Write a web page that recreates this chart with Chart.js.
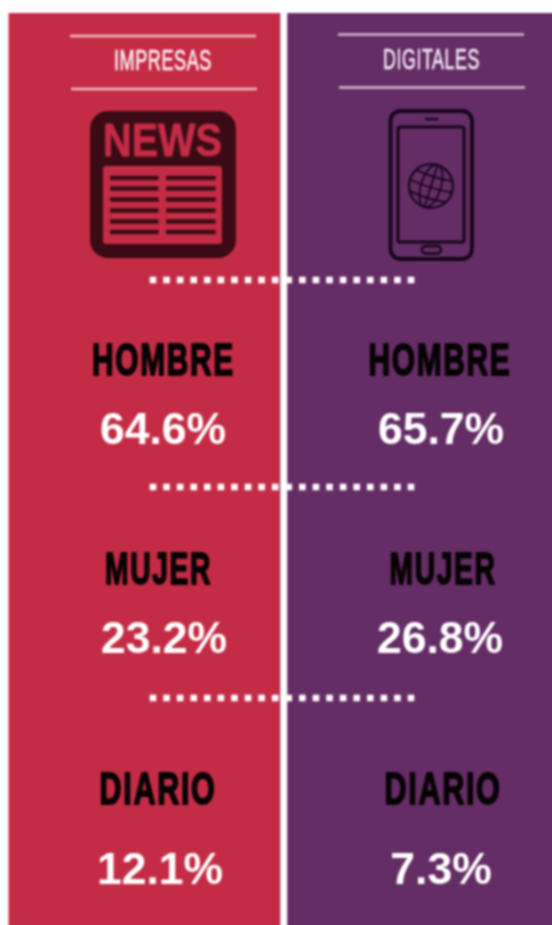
<!DOCTYPE html>
<html lang="es">
<head>
<meta charset="utf-8">
<title>Impresas y digitales</title>
<script src="https://cdn.jsdelivr.net/npm/chart.js@4"></script>
<style>
    html, body { margin: 0; padding: 0; background: #ffffff; overflow: hidden; width: 552px; height: 925px; }
    canvas { display: block; filter: blur(0.85px); }
</style>
</head>
<body>
<canvas id="chart" width="560" height="933"></canvas>
<script>
"use strict";

const medios = ["IMPRESAS", "DIGITALES"];
const categorias = ["HOMBRE", "MUJER", "DIARIO"];
const impresas = [64.6, 23.2, 12.1];
const digitales = [65.7, 26.8, 7.3];
const paneles = [1, 1];

const ROJO = "#C42C45";
const MORADO = "#652D65";
const TINTA = "#3A0B14";
const TINTA_MOVIL = "#14061A";
const CONDENSADA = '"Liberation Sans Narrow", "Liberation Sans", sans-serif';
const ARIAL = '"Liberation Sans", sans-serif';

// where the texts sit, per medium: centre x of name / value, and width of the name
const posTitulos = [{ x: 163, y: 59, w: 98 }, { x: 431.5, y: 58, w: 97 }];
const posNombres = [
    [{ x: 163.5, y: 359, w: 143 }, { x: 158.5, y: 568, w: 107 }, { x: 158, y: 788, w: 117 }],
    [{ x: 440, y: 359, w: 143 }, { x: 443, y: 568, w: 107 }, { x: 443, y: 788, w: 117 }]
];
const posValores = [
    [{ x: 163, y: 429 }, { x: 164, y: 638 }, { x: 160, y: 869 }],
    [{ x: 441, y: 429 }, { x: 440, y: 638 }, { x: 441, y: 869 }]
];
const lineasTitulo = [
    { x1: 70, x2: 256, y1: 36, y2: 89, color: "#F2BAC3" },
    { x1: 338, x2: 524, y1: 34.5, y2: 87.5, color: "#CFB4D4" }
];
const filasPuntos = [280, 487, 698];

function textoAjustado(ctx, texto, cx, cy, ancho, font, color, grosor = 0, espacio = 0) {
    ctx.save();
    ctx.font = font;
    ctx.letterSpacing = espacio + "px";
    ctx.fillStyle = color;
    ctx.strokeStyle = color;
    ctx.textAlign = "center";
    ctx.textBaseline = "alphabetic";
    const medido = ctx.measureText(texto).width;
    ctx.translate(cx, cy);
    ctx.scale(ancho / medido, 1);
    if (grosor > 0) {
        ctx.lineWidth = grosor;
        ctx.lineJoin = "round";
        ctx.strokeText(texto, 0, 0);
    }
    ctx.fillText(texto, 0, 0);
    ctx.restore();
}

function rectRedondo(ctx, x, y, w, h, r) {
    ctx.beginPath();
    ctx.roundRect(x, y, w, h, r);
}

function dibujarPeriodico(ctx) {
    ctx.fillStyle = TINTA;
    rectRedondo(ctx, 90, 111, 146, 147, 18);
    ctx.fill();
    textoAjustado(ctx, "NEWS", 162.5, 156, 119, "bold 46px " + ARIAL, ROJO, 0.8);
    ctx.fillStyle = ROJO;
    rectRedondo(ctx, 103, 166, 119, 78, 3);
    ctx.fill();
    ctx.fillStyle = TINTA;
    [178, 188.5, 199.5, 210.5, 221.5, 232].forEach(y => {
        ctx.fillRect(110, y - 2.2, 48.5, 4.4);
        ctx.fillRect(166, y - 2.2, 49.5, 4.4);
    });
}

function dibujarMovil(ctx) {
    ctx.strokeStyle = TINTA_MOVIL;
    ctx.lineWidth = 3.8;
    rectRedondo(ctx, 390.5, 111, 81.5, 148, 10);
    ctx.stroke();
    ctx.lineWidth = 3;
    rectRedondo(ctx, 398, 127, 66, 115, 2);
    ctx.stroke();
    ctx.lineWidth = 2.4;
    ctx.beginPath();
    ctx.moveTo(425, 119);
    ctx.lineTo(438, 119);
    ctx.stroke();
    rectRedondo(ctx, 422, 246, 19, 7.5, 3.5);
    ctx.stroke();

    // globe
    const gx = 431, gy = 186, r = 22;
    ctx.lineWidth = 2.2;
    ctx.beginPath();
    ctx.arc(gx, gy, r, 0, Math.PI * 2);
    ctx.stroke();
    ctx.save();
    ctx.translate(gx, gy);
    ctx.rotate(0.3);
    ctx.lineWidth = 1.8;
    ctx.beginPath();
    ctx.ellipse(0, 0, 10, r, 0, 0, Math.PI * 2);
    ctx.stroke();
    ctx.beginPath();
    ctx.moveTo(0, -r);
    ctx.lineTo(0, r);
    ctx.stroke();
    [-11, 0, 11].forEach(d => {
        const m = Math.sqrt(r * r - d * d);
        ctx.beginPath();
        ctx.moveTo(-m, d);
        ctx.quadraticCurveTo(0, d + 3, m, d);
        ctx.stroke();
    });
    ctx.restore();
}

const infografia = {
    id: "infografia",
    afterDatasetsDraw(chart) {
        const ctx = chart.ctx;
        const { top, bottom, right } = chart.chartArea;
        const corte = chart.scales.x.getPixelForValue(0.5);

        // bleed past the window edge, so the blur does not fade the panels there
        ctx.fillStyle = MORADO;
        ctx.fillRect(right, top, chart.width - right, chart.height - top);
        ctx.fillRect(corte, bottom, right - corte, chart.height - bottom);
        ctx.fillStyle = ROJO;
        ctx.fillRect(chart.chartArea.left, bottom, corte - chart.chartArea.left, chart.height - bottom);

        // white strip between both panels
        ctx.fillStyle = "#ffffff";
        ctx.fillRect(corte, top, 7, chart.height - top);

        lineasTitulo.forEach(l => {
            ctx.fillStyle = l.color;
            ctx.fillRect(l.x1, l.y1 - 1.3, l.x2 - l.x1, 2.6);
            ctx.fillRect(l.x1 + 1, l.y2 - 1.3, l.x2 - l.x1, 2.6);
        });

        medios.forEach((medio, i) => {
            const p = posTitulos[i];
            textoAjustado(ctx, medio, p.x, p.y + 10.5, p.w, "30px " + CONDENSADA, i === 0 ? "#FBEBEE" : "#F0E4F2", 0.7, 1);
        });

        dibujarPeriodico(ctx);
        dibujarMovil(ctx);

        // dotted separators
        ctx.fillStyle = "#FFFAFB";
        filasPuntos.forEach(y => {
            for (let n = 0; n < 20; n++) {
                ctx.fillRect(149.7 + n * 13.58, y - 3.3, 6.6, 6.6);
            }
        });

        [impresas, digitales].forEach((serie, i) => {
            categorias.forEach((cat, j) => {
                const pn = posNombres[i][j];
                textoAjustado(ctx, cat, pn.x, pn.y + 16, pn.w, "bold 45px " + CONDENSADA, "#070305", 1.8, 2.5);
                const pv = posValores[i][j];
                ctx.font = "bold 44.5px " + ARIAL;
                ctx.fillStyle = "#FFFFFF";
                ctx.textAlign = "center";
                ctx.textBaseline = "alphabetic";
                ctx.fillText(serie[j].toFixed(1) + "%", pv.x, pv.y + 15);
            });
        });
    }
};

function crearInfografia() {
    const ctx = document.querySelector("#chart").getContext("2d");
    const configuration = {
        type: "bar",
        data: {
            labels: medios,
            datasets: [{
                data: paneles,
                backgroundColor: [ROJO, MORADO],
                borderWidth: 0,
                barPercentage: 1,
                categoryPercentage: 1
            }]
        },
        options: {
            responsive: false,
            animation: false,
            layout: { padding: { left: 8.5, top: 13, right: 8, bottom: 8 } },
            plugins: {
                legend: { display: false },
                tooltip: { enabled: false }
            },
            scales: {
                x: { display: false },
                y: { display: false, min: 0, max: 1 }
            }
        },
        plugins: [infografia]
    };
    new Chart(ctx, configuration);
}

crearInfografia();
</script>
</body>
</html>
